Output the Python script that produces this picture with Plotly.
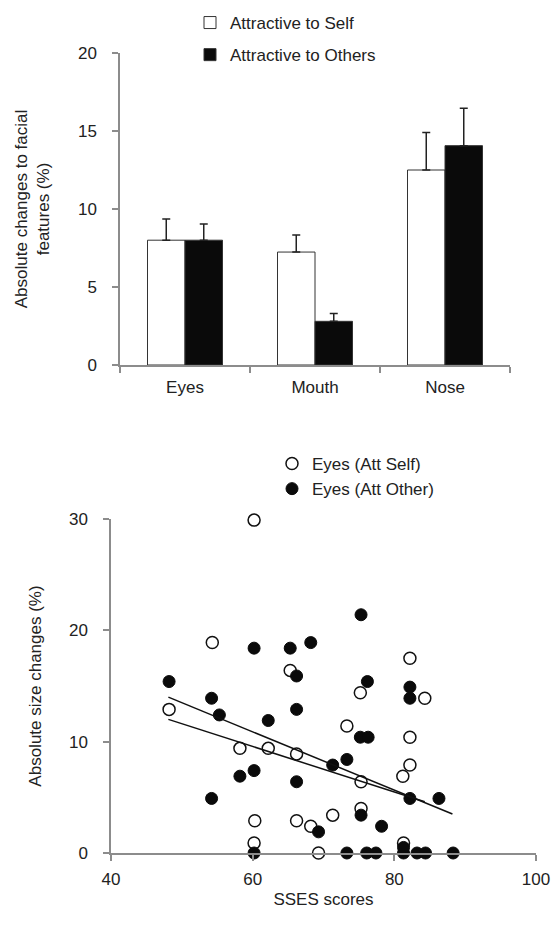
import plotly.graph_objects as go

# ---------------- data: bar chart ----------------
features = ["Eyes", "Mouth", "Nose"]
att_self = [8.0, 7.24, 12.5]
att_self_err = [1.36, 1.1, 2.4]
att_others = [8.0, 2.8, 14.06]
att_others_err = [1.04, 0.5, 2.4]

# ---------------- data: scatter ----------------
self_x = [48.2, 54.3, 60.2, 65.3, 58.2, 62.2, 66.2, 73.3, 60.3, 60.2, 66.2, 68.2,
          71.3, 69.3, 75.2, 75.3, 75.3, 82.2, 82.2, 81.2, 84.3, 81.3, 82.2]
self_y = [12.9, 18.9, 29.9, 16.4, 9.4, 9.4, 8.9, 11.4, 2.9, 0.9, 2.9, 2.4,
          3.4, 0.0, 14.4, 6.4, 4.0, 10.4, 7.9, 6.9, 13.9, 0.9, 17.5]

other_x = [48.2, 54.2, 55.3, 54.2, 58.2, 60.2, 62.2, 66.2, 66.2, 66.2, 60.2, 60.2,
           65.3, 68.2, 75.3, 76.2, 82.2, 82.2, 75.2, 76.3, 73.3, 71.3, 82.2, 86.3,
           75.3, 78.2, 69.3, 73.3, 76.1, 77.4, 81.3, 81.3, 83.2, 84.4, 88.3]
other_y = [15.4, 13.9, 12.4, 4.9, 6.9, 7.4, 11.9, 12.9, 6.4, 15.9, 0.0, 18.4,
           18.4, 18.9, 21.4, 15.4, 14.9, 13.9, 10.4, 10.4, 8.4, 7.9, 4.9, 4.9,
           3.4, 2.4, 1.9, 0.0, 0.0, 0.0, 0.0, 0.5, 0.0, 0.0, 0.0]

# fitted trend lines (end points)
trend_self_x = [48.1, 84.3]
trend_self_y = [12.0, 4.6]
trend_other_x = [48.1, 88.2]
trend_other_y = [14.0, 3.5]

W, H = 553, 936


def fx(px):
    return px / W


def fy(py):
    return 1 - py / H


FONT = "Liberation Sans, Arial, sans-serif"
TXT = "#222222"
AX = "#8c8c8c"
FS = 17

fig = go.Figure()

# bars
fig.add_trace(go.Bar(
    x=features, y=att_self, name="Attractive to Self",
    marker=dict(color="white", line=dict(color="#333333", width=1)),
    error_y=dict(type="data", symmetric=False, array=att_self_err,
                 arrayminus=[0] * len(att_self_err), color="#222222",
                 thickness=1.5, width=4),
    xaxis="x", yaxis="y", legend="legend", legendgroup="a"))
fig.add_trace(go.Bar(
    x=features, y=att_others, name="Attractive to Others",
    marker=dict(color="#0a0a0a", line=dict(color="#333333", width=1)),
    error_y=dict(type="data", symmetric=False, array=att_others_err,
                 arrayminus=[0] * len(att_others_err), color="#222222",
                 thickness=1.5, width=4),
    xaxis="x", yaxis="y", legend="legend", legendgroup="b"))

# scatter
fig.add_trace(go.Scatter(
    x=self_x, y=self_y, mode="markers", name="Eyes (Att Self)",
    marker=dict(symbol="circle", size=12, color="white",
                line=dict(color="#111111", width=1.5)),
    cliponaxis=False,
    xaxis="x2", yaxis="y2", legend="legend2", legendgroup="c"))
fig.add_trace(go.Scatter(
    x=other_x, y=other_y, mode="markers", name="Eyes (Att Other)",
    marker=dict(symbol="circle", size=12, color="#0a0a0a",
                line=dict(color="#0a0a0a", width=1)),
    cliponaxis=False,
    xaxis="x2", yaxis="y2", legend="legend2", legendgroup="d"))
fig.add_trace(go.Scatter(
    x=trend_self_x, y=trend_self_y, mode="lines", showlegend=False,
    line=dict(color="#111111", width=1.5), xaxis="x2", yaxis="y2"))
fig.add_trace(go.Scatter(
    x=trend_other_x, y=trend_other_y, mode="lines", showlegend=False,
    line=dict(color="#111111", width=1.5), xaxis="x2", yaxis="y2"))

axis_common = dict(showgrid=False, zeroline=False, showline=True,
                   linecolor=AX, linewidth=1.5, ticks="outside",
                   tickcolor=AX, ticklen=6, tickwidth=1.5,
                   ticklabeloverflow="allow", automargin=False,
                   tickfont=dict(size=FS, color=TXT, family=FONT))

fig.update_layout(
    width=W, height=H,
    margin=dict(l=0, r=0, t=0, b=0, pad=0, autoexpand=False),
    paper_bgcolor="white", plot_bgcolor="white",
    font=dict(family=FONT, color=TXT, size=FS),
    barmode="group", bargap=0.423, bargroupgap=0,
    xaxis=dict(domain=[fx(120), fx(510)], anchor="y",
               tickson="boundaries", ticklabelstandoff=6, **axis_common),
    yaxis=dict(domain=[fy(365), fy(53)], anchor="x",
               range=[0, 20], tickvals=[0, 5, 10, 15, 20],
               ticklabelstandoff=12,
               title=dict(text="Absolute changes to facial<br>features (%)",
                          font=dict(size=FS, color=TXT), standoff=24),
               **axis_common),
    xaxis2=dict(domain=[fx(111), fx(536)], anchor="y2",
                range=[40, 100], tickvals=[40, 60, 80, 100],
                ticklabelstandoff=4,
                title=dict(text="SSES scores", font=dict(size=FS, color=TXT),
                           standoff=5),
                **axis_common),
    yaxis2=dict(domain=[fy(853), fy(519)], anchor="x2",
                range=[0, 30], tickvals=[0, 10, 20, 30],
                ticklabelstandoff=12,
                title=dict(text="Absolute size changes (%)",
                           font=dict(size=FS, color=TXT), standoff=23),
                **axis_common),
    legend=dict(x=fx(190), y=fy(5), xanchor="left", yanchor="top",
                bgcolor="rgba(0,0,0,0)", font=dict(size=FS, color=TXT),
                traceorder="grouped", tracegroupgap=7, itemwidth=30),
    legend2=dict(x=fx(272), y=fy(446), xanchor="left", yanchor="top",
                 bgcolor="rgba(0,0,0,0)", font=dict(size=FS, color=TXT),
                 traceorder="grouped", tracegroupgap=0, itemwidth=30),
)

fig.write_html(
    "out.html",
    config={"displayModeBar": False},
    post_script="document.body.style.margin='0';"
                "document.body.style.overflow='hidden';",
)
